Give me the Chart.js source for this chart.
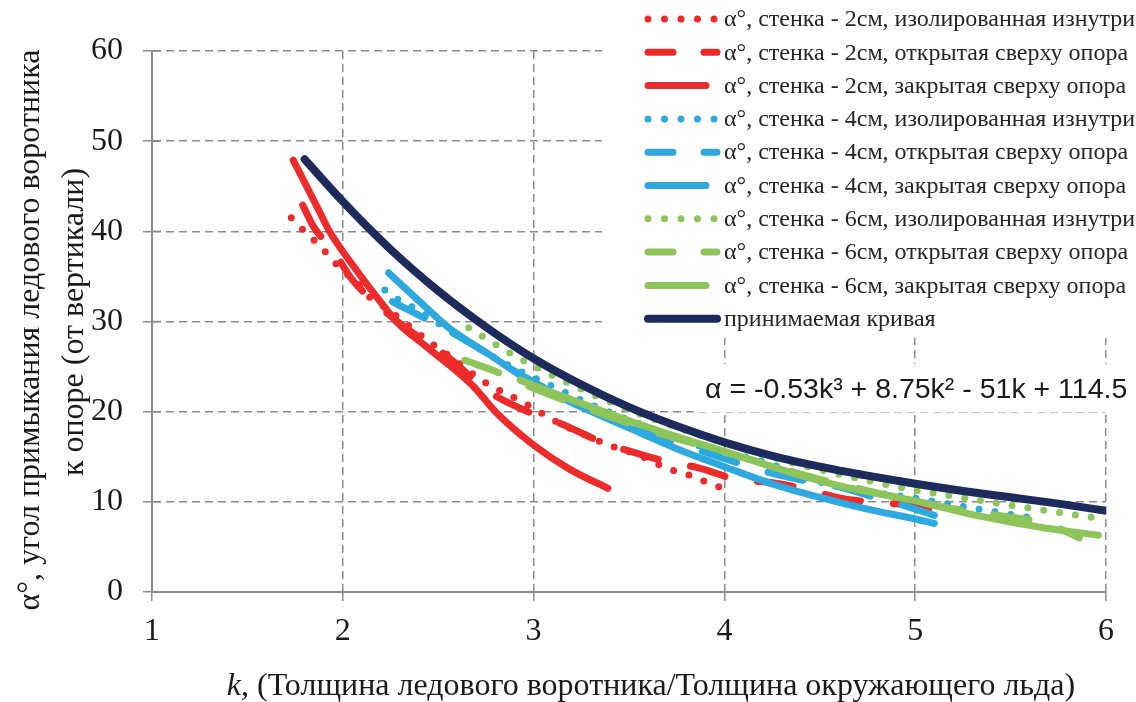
<!DOCTYPE html>
<html>
<head>
<meta charset="utf-8">
<script src="https://cdn.jsdelivr.net/npm/chart.js@4.4.0/dist/chart.umd.min.js"></script>
<style>
  html, body { margin: 0; padding: 0; background: #fff; }
  #wrap { width: 1136px; height: 702px; }
</style>
</head>
<body>
<div id="wrap"><canvas id="chart" width="1136" height="702"></canvas></div>
<script>
/* ── Data ────────────────────────────────────────────────────── */
const xTicks = [1, 2, 3, 4, 5, 6];
const yTicks = [0, 10, 20, 30, 40, 50, 60];

const seriesLabels = [
  "α°, стенка - 2см, изолированная изнутри",
  "α°, стенка - 2см, открытая сверху опора",
  "α°, стенка - 2см, закрытая сверху опора",
  "α°, стенка - 4см, изолированная изнутри",
  "α°, стенка - 4см, открытая сверху опора",
  "α°, стенка - 4см, закрытая сверху опора",
  "α°, стенка - 6см, изолированная изнутри",
  "α°, стенка - 6см, открытая сверху опора",
  "α°, стенка - 6см, закрытая сверху опора",
  "принимаемая кривая"
];

// 2 cm wall
const kRedDot   = [1.73, 1.79, 1.85, 1.91, 1.96, 2.02, 2.09, 2.14, 2.22, 2.33, 2.45, 2.57, 2.72, 2.79, 2.95, 3.10, 3.26, 3.42, 3.55, 3.65, 3.73, 3.81, 3.88, 3.98];
const aRedDot   = [41.5, 40.2, 39.0, 37.7, 36.5, 35.3, 34.1, 32.7, 31.6, 29.8, 27.8, 26.0, 23.6, 22.7, 21.0, 19.1, 17.5, 16.1, 15.2, 14.2, 13.5, 13.0, 12.4, 11.6];
const kRedDash  = [1.79, 1.85, 1.95, 2.04, 2.20, 2.35, 2.48, 2.60, 2.73, 2.98, 3.14, 3.36, 3.49, 3.71, 3.86, 4.08, 4.22, 4.45, 4.59, 4.80, 4.99, 5.13];
const aRedDash  = [42.9, 40.4, 37.9, 34.9, 31.5, 29.0, 27.2, 25.2, 22.7, 19.9, 18.7, 16.6, 15.7, 14.4, 13.8, 12.4, 12.2, 11.3, 10.5, 9.9, 9.6, 8.8];
const kRedSolid = [1.74, 1.88, 1.93, 2.04, 2.23, 2.28, 2.45, 2.68, 2.80, 3.00, 3.19, 3.39];
const aRedSolid = [47.9, 42.1, 40.0, 36.6, 31.3, 30.0, 27.0, 22.9, 20.0, 16.3, 13.6, 11.5];

// 4 cm wall
const kBlueDot   = [2.22, 2.30, 2.42, 2.50, 2.70, 2.90, 3.05, 3.30, 3.60, 3.90, 4.20, 4.50, 4.80, 5.00, 5.30, 5.65];
const aBlueDot   = [33.5, 32.3, 31.0, 29.8, 27.2, 24.8, 23.3, 20.8, 18.3, 16.0, 14.5, 12.2, 11.0, 10.4, 9.3, 8.1];
const kBlueDash  = [2.26, 2.37, 2.50, 2.70, 2.90, 3.10, 3.40, 3.70, 4.00, 4.30, 4.63, 4.80, 4.94, 5.10];
const aBlueDash  = [32.2, 31.0, 29.6, 27.2, 24.5, 22.2, 19.6, 17.0, 14.8, 12.9, 11.5, 10.4, 9.6, 8.5];
const kBlueSolid = [2.24, 2.47, 2.55, 2.77, 2.98, 3.20, 3.50, 3.75, 4.00, 4.25, 4.50, 4.75, 5.00, 5.10];
const aBlueSolid = [35.4, 30.9, 29.4, 26.3, 23.4, 21.0, 18.2, 15.9, 13.9, 12.0, 10.5, 9.2, 8.1, 7.6];

// 6 cm wall
const kGreenDot   = [2.66, 2.91, 3.20, 3.50, 3.80, 4.10, 4.40, 4.70, 5.00, 5.30, 5.60, 5.95];
const aGreenDot   = [29.3, 26.1, 23.0, 20.2, 17.9, 15.9, 14.1, 12.6, 11.3, 10.3, 9.3, 8.2];
const kGreenDash  = [2.64, 2.82, 3.00, 3.30, 3.60, 3.90, 4.20, 4.50, 4.80, 5.10, 5.40, 5.70, 5.86];
const aGreenDash  = [25.7, 24.3, 22.6, 20.2, 18.0, 16.1, 14.3, 12.5, 11.0, 9.6, 8.6, 7.5, 6.0];
const kGreenSolid = [2.93, 3.14, 3.50, 3.80, 4.00, 4.34, 4.64, 5.00, 5.32, 5.65, 5.96];
const aGreenSolid = [23.5, 21.8, 19.0, 16.9, 15.6, 13.3, 11.6, 10.1, 8.5, 7.2, 6.3];

// accepted curve
const kAccepted = [1.80, 2.00, 2.25, 2.50, 2.75, 3.00, 3.25, 3.50, 3.75, 4.00, 4.25, 4.50, 4.75, 5.00, 5.25, 5.50, 5.75, 6.00];
const aAccepted = [48.0, 43.3, 38.0, 33.4, 29.4, 25.9, 23.0, 20.5, 18.4, 16.6, 15.1, 13.9, 12.9, 12.0, 11.2, 10.5, 9.8, 9.0];

const equationText = "α = -0.53k³ + 8.75k² - 51k + 114.5";
const xTitle = ", (Толщина ледового воротника/Толщина окружающего льда)";
const yTitle = ["α°, угол примыкания ледового воротника", "к опоре (от вертикали)"];

/* ── Styles ──────────────────────────────────────────────────── */
const RED = "#ee2b2b", BLUE = "#2ea9df", GREEN = "#8dc55a", NAVY = "#1c2a5c";
const AXIS = "#8c8c8c";
const SERIF = "'Liberation Serif', 'DejaVu Serif', serif";

const styles = [
  { color: RED,   kind: "dot"   },
  { color: RED,   kind: "dash"  },
  { color: RED,   kind: "solid" },
  { color: BLUE,  kind: "dot"   },
  { color: BLUE,  kind: "dash"  },
  { color: BLUE,  kind: "solid" },
  { color: GREEN, kind: "dot"   },
  { color: GREEN, kind: "dash"  },
  { color: GREEN, kind: "solid" },
  { color: NAVY,  kind: "navy"  }
];

const seriesK = [kRedDot, kRedDash, kRedSolid, kBlueDot, kBlueDash, kBlueSolid, kGreenDot, kGreenDash, kGreenSolid, kAccepted];
const seriesA = [aRedDot, aRedDash, aRedSolid, aBlueDot, aBlueDash, aBlueSolid, aGreenDot, aGreenDash, aGreenSolid, aAccepted];

function dashFor(kind) {
  if (kind === "dot")  return [0, 16];
  if (kind === "dash") return [36, 33];
  return [];
}

const datasets = seriesK.map((ks, i) => ({
  label: seriesLabels[i],
  data: ks.map((k, j) => ({ x: k, y: seriesA[i][j] })),
  showLine: true,
  borderColor: styles[i].color,
  backgroundColor: styles[i].color,
  borderWidth: styles[i].kind === "navy" ? 8 : 7,
  borderDash: dashFor(styles[i].kind),
  borderCapStyle: "round",
  borderJoinStyle: "round",
  cubicInterpolationMode: "monotone",
  pointRadius: 0,
  pointHoverRadius: 0,
  order: -i
}));

/* ── Overlay: legend box, equation, axis titles ─────────────── */
const overlay = {
  id: "overlay",
  beforeDatasetsDraw(chart) {
    const ctx = chart.ctx;
    ctx.save();
    ctx.fillStyle = "#fff";
    ctx.fillRect(602, 0, 534, 338);   // legend box
    ctx.fillRect(697, 364, 439, 48);  // equation box

    // y ticks cross the axis line
    const ys = chart.scales.y, left = chart.chartArea.left;
    ctx.strokeStyle = AXIS;
    ctx.lineWidth = 1.5;
    yTicks.forEach(v => {
      const py = ys.getPixelForValue(v);
      ctx.beginPath(); ctx.moveTo(left, py); ctx.lineTo(left + 9, py); ctx.stroke();
    });
    ctx.restore();
  },
  afterDraw(chart) {
    const ctx = chart.ctx;
    ctx.save();

    // legend
    ctx.font = "24px " + SERIF;
    ctx.textBaseline = "middle";
    ctx.textAlign = "left";
    styles.forEach((s, i) => {
      const y = 19 + i * 33.3;
      ctx.strokeStyle = s.color;
      ctx.lineCap = "round";
      ctx.lineWidth = s.kind === "navy" ? 8 : 7;
      ctx.beginPath();
      if (s.kind === "dot") {
        ctx.setLineDash([0, 16.5]);
        ctx.moveTo(648, y); ctx.lineTo(715, y);
      } else if (s.kind === "dash") {
        ctx.setLineDash([25, 31]);
        ctx.moveTo(648, y); ctx.lineTo(717, y);
      } else if (s.kind === "navy") {
        ctx.setLineDash([]);
        ctx.moveTo(648, y); ctx.lineTo(717, y);
      } else {
        ctx.setLineDash([]);
        ctx.moveTo(648, y); ctx.lineTo(706, y);
      }
      ctx.stroke();
      ctx.setLineDash([]);
      ctx.fillStyle = "#262626";
      ctx.fillText(seriesLabels[i], 724, y + 1);
    });

    // equation
    ctx.font = "28.5px 'Liberation Sans', Arial, sans-serif";
    ctx.fillStyle = "#1a1a1a";
    ctx.fillText(equationText, 705, 390);

    // x title with italic k
    ctx.font = "italic 32px " + SERIF;
    const wk = ctx.measureText("k").width;
    ctx.font = "32px " + SERIF;
    const wr = ctx.measureText(xTitle).width;
    const x0 = 651 - (wk + wr) / 2;
    ctx.fillStyle = "#1a1a1a";
    ctx.font = "italic 32px " + SERIF;
    ctx.fillText("k", x0, 687);
    ctx.font = "32px " + SERIF;
    ctx.fillText(xTitle, x0 + wk, 687);

    // y title, rotated
    ctx.translate(0, 330);
    ctx.rotate(-Math.PI / 2);
    ctx.textAlign = "center";
    ctx.font = "32px " + SERIF;
    ctx.fillText(yTitle[0], 0, 31);
    ctx.fillText(yTitle[1], 8, 75);
    ctx.restore();
  }
};

/* ── Chart ───────────────────────────────────────────────────── */
const gridStyle = { color: AXIS, lineWidth: 1.5, tickLength: 9, tickColor: AXIS, tickWidth: 1.5 };

new Chart(document.getElementById("chart"), {
  type: "scatter",
  data: { datasets },
  options: {
    responsive: false,
    animation: false,
    layout: { padding: { top: 51, right: 30, left: 0, bottom: 0 } },
    plugins: { legend: { display: false }, tooltip: { enabled: false } },
    scales: {
      x: {
        type: "linear",
        min: xTicks[0], max: xTicks[xTicks.length - 1],
        afterBuildTicks: axis => { axis.ticks = xTicks.map(v => ({ value: v })); },
        afterFit: axis => { axis.height = 110; },
        grid: gridStyle,
        border: { display: true, color: AXIS, width: 2, dash: [8, 5] },
        ticks: { font: { family: SERIF, size: 32 }, color: "#1a1a1a", padding: 11, maxRotation: 0 }
      },
      y: {
        type: "linear",
        min: yTicks[0], max: yTicks[yTicks.length - 1],
        afterBuildTicks: axis => { axis.ticks = yTicks.map(v => ({ value: v })); },
        afterFit: axis => { axis.width = 152; },
        grid: gridStyle,
        border: { display: true, color: AXIS, width: 2, dash: [8, 5] },
        ticks: { font: { family: SERIF, size: 32 }, color: "#1a1a1a", padding: 20 }
      }
    }
  },
  plugins: [overlay]
});
</script>
</body>
</html>
